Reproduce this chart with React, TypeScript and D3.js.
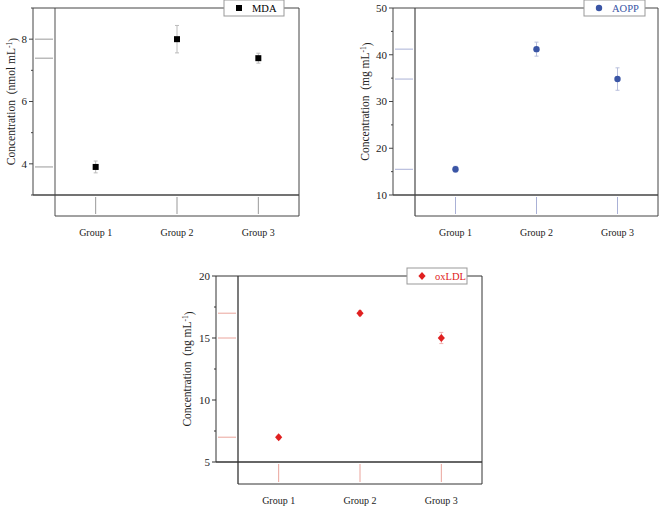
import React from "react";
import * as d3 from "d3";

const groups = ["Group 1", "Group 2", "Group 3"];

const mdaMean = [3.9, 8.0, 7.39];
const mdaErr = [0.19, 0.44, 0.16];
const aoppMean = [15.5, 41.2, 34.8];
const aoppErr = [0.65, 1.5, 2.4];
const oxldlMean = [7.0, 17.0, 15.0];
const oxldlErr = [0.15, 0.2, 0.45];

const mdaTicks = [4, 6, 8];
const mdaMinor = [3, 5, 7, 9];
const aoppTicks = [10, 20, 30, 40, 50];
const aoppMinor = [15, 25, 35, 45];
const oxldlTicks = [5, 10, 15, 20];
const oxldlMinor = [7.5, 12.5, 17.5];

type Panel = {
  name: string;
  unit: string;
  mean: number[];
  err: number[];
  ticks: number[];
  minor: number[];
  domain: [number, number];
  axisX: number;
  frameX: number;
  right: number;
  top: number;
  axisY: number;
  bottom: number;
  axisColor: string;
  frameColor: string;
  markColor: string;
  errColor: string;
  rugColor: string;
  textColor: string;
  marker: "square" | "circle" | "diamond";
  legend: { x: number; w: number };
  labelX: number;
};

const panels: Panel[] = [
  {
    name: "MDA",
    unit: "nmol",
    mean: mdaMean,
    err: mdaErr,
    ticks: mdaTicks,
    minor: mdaMinor,
    domain: [3, 9],
    axisX: 33,
    frameX: 55,
    right: 299,
    top: 8,
    axisY: 195,
    bottom: 216,
    axisColor: "#444",
    frameColor: "#777",
    markColor: "#000",
    errColor: "#bbb",
    rugColor: "#999",
    textColor: "#000",
    marker: "square",
    legend: { x: 224, w: 60 },
    labelX: 11,
  },
  {
    name: "AOPP",
    unit: "mg",
    mean: aoppMean,
    err: aoppErr,
    ticks: aoppTicks,
    minor: aoppMinor,
    domain: [10, 50],
    axisX: 393,
    frameX: 415,
    right: 658,
    top: 8,
    axisY: 195,
    bottom: 216,
    axisColor: "#444",
    frameColor: "#555",
    markColor: "#3a55a5",
    errColor: "#b8bfdc",
    rugColor: "#aab1d6",
    textColor: "#3a55a5",
    marker: "circle",
    legend: { x: 584, w: 61 },
    labelX: 365,
  },
  {
    name: "oxLDL",
    unit: "ng",
    mean: oxldlMean,
    err: oxldlErr,
    ticks: oxldlTicks,
    minor: oxldlMinor,
    domain: [5, 20],
    axisX: 216,
    frameX: 238,
    right: 482,
    top: 276,
    axisY: 462,
    bottom: 484,
    axisColor: "#333",
    frameColor: "#333",
    markColor: "#e02020",
    errColor: "#f0b0b0",
    rugColor: "#eaa49c",
    textColor: "#e02020",
    marker: "diamond",
    legend: { x: 407, w: 60 },
    labelX: 187,
  },
];

const FONT = "'Liberation Serif', 'Times New Roman', serif";

function Marker({ type, x, y, color }: { type: string; x: number; y: number; color: string }) {
  if (type === "square") return <rect x={x - 3} y={y - 3} width={6} height={6} fill={color} />;
  if (type === "circle") return <circle cx={x} cy={y} r={3.2} fill={color} />;
  return (
    <path
      d={`M${x},${y - 4}L${x + 3.6},${y}L${x},${y + 4}L${x - 3.6},${y}Z`}
      fill={color}
    />
  );
}

function PanelView({ p }: { p: Panel }) {
  const y = d3.scaleLinear().domain(p.domain).range([p.axisY, p.top]);
  const x = d3.scalePoint<string>().domain(groups).range([p.frameX, p.right]).padding(0.5);
  const midY = (p.top + p.axisY) / 2;
  const ly = p.top;
  return (
    <g>
      {/* rug lines */}
      {p.mean.map((v, i) => (
        <line key={"rh" + i} x1={p.axisX + 2} x2={p.frameX - 2} y1={y(v)} y2={y(v)} stroke={p.rugColor} strokeWidth={1} />
      ))}
      {groups.map((g) => (
        <line key={"rv" + g} x1={x(g)} x2={x(g)} y1={p.axisY + 2} y2={p.bottom - 2} stroke={p.rugColor} strokeWidth={1} />
      ))}
      {/* frames */}
      <line x1={p.frameX} x2={p.frameX} y1={p.top} y2={p.bottom} stroke={p.frameColor} strokeWidth={1.3} />
      <line x1={p.frameX} x2={p.right} y1={p.bottom} y2={p.bottom} stroke={p.axisColor} strokeWidth={1} />
      <line x1={p.axisX} x2={p.axisX} y1={p.top} y2={p.axisY} stroke={p.axisColor} strokeWidth={1} />
      <line x1={p.axisX} x2={p.right} y1={p.axisY} y2={p.axisY} stroke={p.axisColor} strokeWidth={1.3} />
      <line x1={p.axisX} x2={p.right} y1={p.top} y2={p.top} stroke={p.axisColor} strokeWidth={1} />
      <line x1={p.right} x2={p.right} y1={p.top} y2={p.bottom} stroke={p.axisColor} strokeWidth={1} />
      {/* ticks */}
      {p.ticks.map((t) => (
        <g key={"t" + t}>
          <line x1={p.axisX - 4} x2={p.axisX} y1={y(t)} y2={y(t)} stroke={p.axisColor} />
          <text x={p.axisX - 6} y={y(t)} dy="0.35em" textAnchor="end" fontSize={11} fontFamily={FONT} fill="#222">
            {t}
          </text>
        </g>
      ))}
      {p.minor.map((t) => (
        <line key={"m" + t} x1={p.axisX - 2} x2={p.axisX} y1={y(t)} y2={y(t)} stroke={p.axisColor} />
      ))}
      {/* y label */}
      <text
        transform={`translate(${p.labelX},${midY}) rotate(-90)`}
        textAnchor="middle"
        fontSize={11.5}
        fontFamily={FONT}
        fill="#222"
        dy="0.35em"
      >
        {"Concentration\u00a0\u00a0(" + p.unit + " mL"}
        <tspan dy="-0.45em" fontSize={7.5}>-1</tspan>
        <tspan dy="0.45em">)</tspan>
      </text>
      {/* group labels */}
      {groups.map((g) => (
        <text key={"g" + g} x={x(g)} y={p.bottom + 20} textAnchor="middle" fontSize={10} fontFamily={FONT} fill="#222">
          {g}
        </text>
      ))}
      {/* error bars */}
      {groups.map((g, i) => (
        <g key={"e" + g} stroke={p.errColor} strokeWidth={1}>
          <line x1={x(g)} x2={x(g)} y1={y(p.mean[i] + p.err[i])} y2={y(p.mean[i] - p.err[i])} />
          <line x1={x(g)! - 2} x2={x(g)! + 2} y1={y(p.mean[i] + p.err[i])} y2={y(p.mean[i] + p.err[i])} />
          <line x1={x(g)! - 2} x2={x(g)! + 2} y1={y(p.mean[i] - p.err[i])} y2={y(p.mean[i] - p.err[i])} />
        </g>
      ))}
      {groups.map((g, i) => (
        <Marker key={"p" + g} type={p.marker} x={x(g)!} y={y(p.mean[i])} color={p.markColor} />
      ))}
      {/* legend */}
      <rect x={p.legend.x} y={ly - 8} width={p.legend.w} height={16} fill="#fff" stroke="#999" strokeWidth={1} />
      <Marker type={p.marker} x={p.legend.x + 15} y={ly} color={p.markColor} />
      <text x={p.legend.x + 28} y={ly} dy="0.35em" fontSize={10.5} fontFamily={FONT} fill={p.textColor}>
        {p.name}
      </text>
    </g>
  );
}

export default function App() {
  return (
    <svg width={660} height={506} style={{ position: "absolute", left: 0, top: 0, background: "#fff" }}>
      <rect width={660} height={506} fill="#fff" />
      {panels.map((p) => (
        <PanelView key={p.name} p={p} />
      ))}
    </svg>
  );
}
